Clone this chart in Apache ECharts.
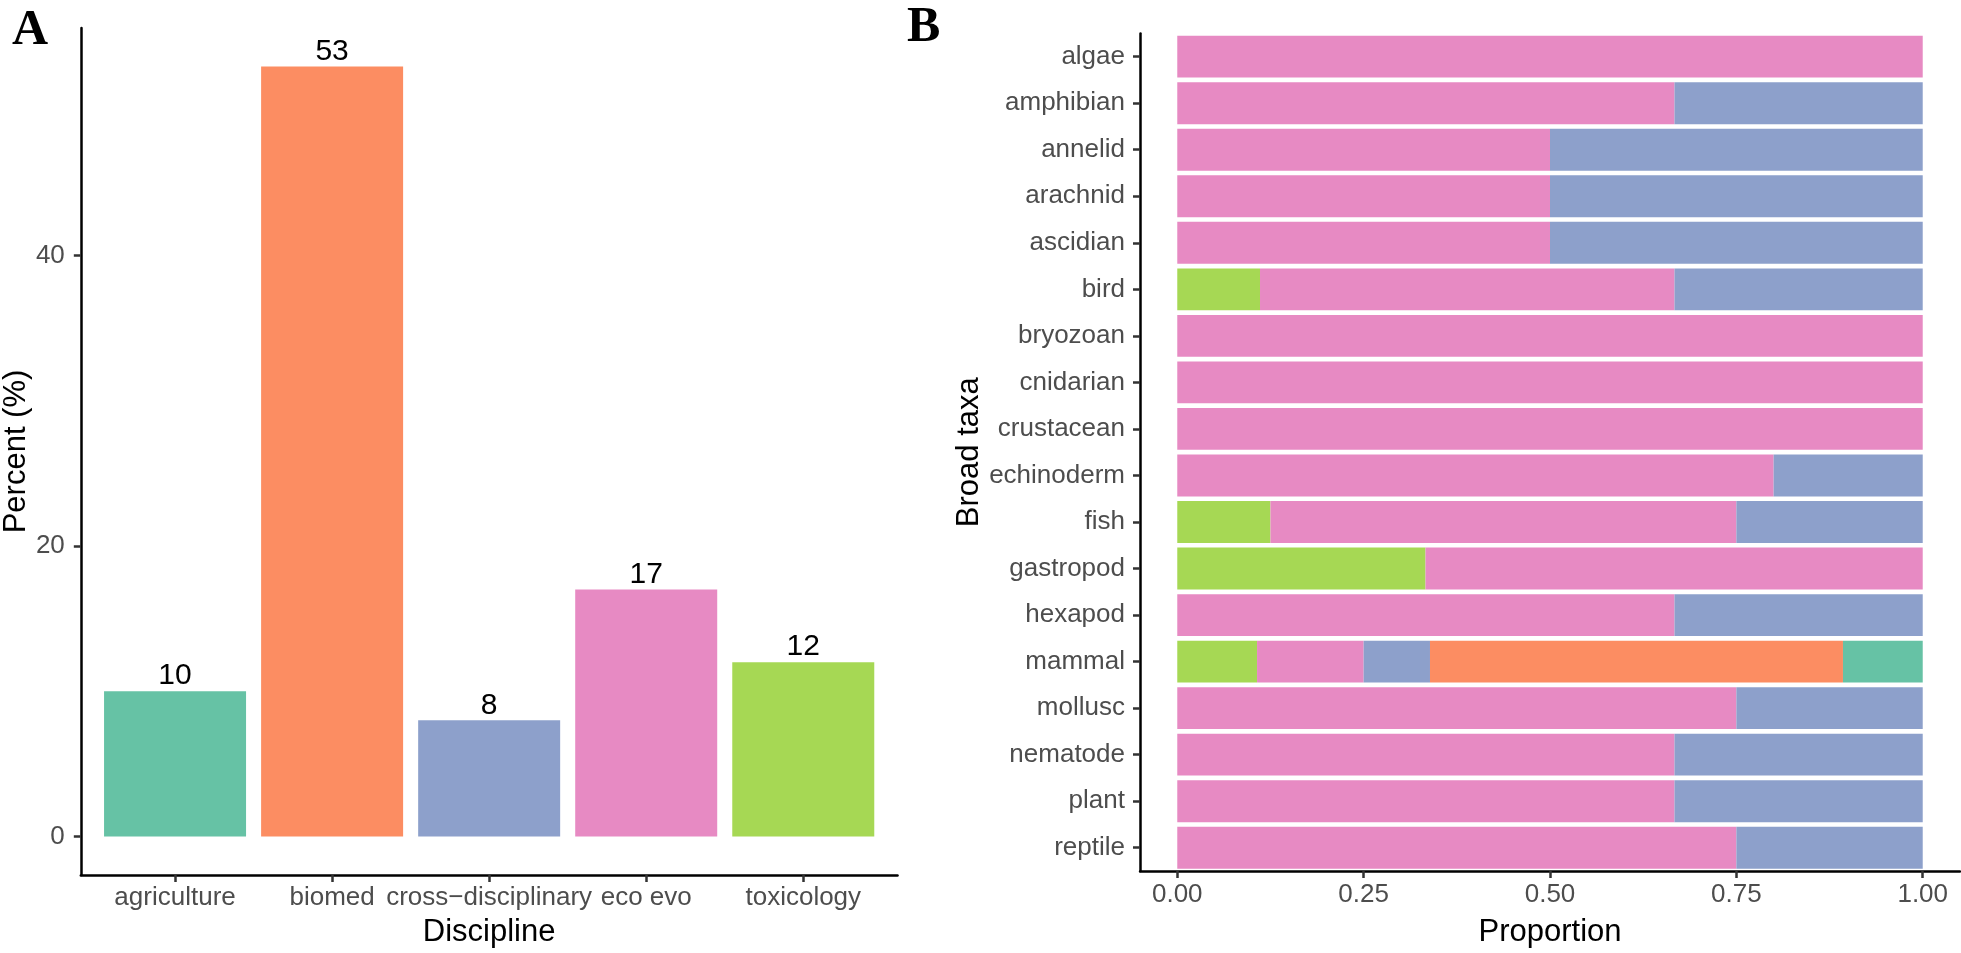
<!DOCTYPE html>
<html>
<head>
<meta charset="utf-8">
<script src="https://cdn.jsdelivr.net/npm/echarts@6/dist/echarts.min.js"></script>
<style>
html,body{margin:0;padding:0;background:#fff;}
#chart{width:1961px;height:953px;}
</style>
</head>
<body>
<div id="chart"></div>
<script>
// ---- Data ----
const disciplines = ['agriculture', 'biomed', 'cross\u2212disciplinary', 'eco evo', 'toxicology'];
const percents = [10, 53, 8, 17, 12];
const percentTicks = [0, 20, 40];

const taxa = ['algae','amphibian','annelid','arachnid','ascidian','bird','bryozoan','cnidarian','crustacean','echinoderm','fish','gastropod','hexapod','mammal','mollusc','nematode','plant','reptile'];
const propToxicology = [0,0,0,0,0,0.111,0,0,0,0,0.125,0.333,0,0.107,0,0,0,0];
const propEcoEvo     = [1,0.667,0.5,0.5,0.5,0.556,1,1,1,0.8,0.625,0.667,0.667,0.143,0.75,0.667,0.667,0.75];
const propCross      = [0,0.333,0.5,0.5,0.5,0.333,0,0,0,0.2,0.25,0,0.333,0.089,0.25,0.333,0.333,0.25];
const propBiomed     = [0,0,0,0,0,0,0,0,0,0,0,0,0,0.554,0,0,0,0];
const propAgri       = [0,0,0,0,0,0,0,0,0,0,0,0,0,0.107,0,0,0,0];
const proportionTicks = [0, 0.25, 0.5, 0.75, 1];

// Set2 palette, in discipline order
const palette = ['#66C2A5', '#FC8D62', '#8DA0CB', '#E78AC3', '#A6D854'];

// ---- Chart ----
const FONT = '"Liberation Sans", Arial, Helvetica, sans-serif';
const SERIF = '"Liberation Serif", "Times New Roman", serif';
const tickColor = '#4D4D4D';
const axisLineStyle = {color: '#000', width: 2.5};
const tickLineStyle = {color: '#333', width: 2.5};

const chart = echarts.init(document.getElementById('chart'), null, {renderer: 'canvas'});

const stackDefs = [
  {name: 'toxicology', data: propToxicology, color: palette[4]},
  {name: 'eco evo', data: propEcoEvo, color: palette[3]},
  {name: 'cross-disciplinary', data: propCross, color: palette[2]},
  {name: 'biomed', data: propBiomed, color: palette[1]},
  {name: 'agriculture', data: propAgri, color: palette[0]}
];

const option = {
  animation: false,
  backgroundColor: '#fff',
  textStyle: {fontFamily: FONT},
  graphic: [
    {type: 'text', left: 12, top: 6, style: {text: 'A', font: 'bold 50px ' + SERIF, fill: '#000'}},
    {type: 'text', left: 907, top: 3, style: {text: 'B', font: 'bold 50px ' + SERIF, fill: '#000'}}
  ],
  grid: [
    {left: 79, right: 1063.5, top: 28, bottom: 78},
    {left: 1140, right: 1, top: 33.4, bottom: 79.7}
  ],
  xAxis: [
    {
      gridIndex: 0, type: 'value', min: -0.6, max: 4.6,
      name: 'Discipline', nameLocation: 'middle', nameGap: 42,
      nameTextStyle: {fontSize: 31, color: '#000', fontFamily: FONT},
      axisLine: {show: true, onZero: false, lineStyle: axisLineStyle},
      axisTick: {show: true, length: 7, lineStyle: tickLineStyle, customValues: disciplines.map((d, i) => i)},
      axisLabel: {fontSize: 26, color: tickColor, margin: 10, fontFamily: FONT,
        customValues: disciplines.map((d, i) => i),
        formatter: v => disciplines[Math.round(v)]},
      splitLine: {show: false}
    },
    {
      gridIndex: 1, type: 'value', min: -0.05, max: 1.05,
      name: 'Proportion', nameLocation: 'middle', nameGap: 46,
      nameTextStyle: {fontSize: 31, color: '#000', fontFamily: FONT},
      axisLine: {show: true, onZero: false, lineStyle: axisLineStyle},
      axisTick: {show: true, length: 7, lineStyle: tickLineStyle, customValues: proportionTicks},
      axisLabel: {fontSize: 26, color: tickColor, margin: 11, fontFamily: FONT,
        customValues: proportionTicks,
        formatter: v => v.toFixed(2)},
      splitLine: {show: false}
    }
  ],
  yAxis: [
    {
      gridIndex: 0, type: 'value', min: -2.65, max: 55.65,
      name: 'Percent (%)', nameLocation: 'middle', nameGap: 47, nameRotate: 90,
      nameTextStyle: {fontSize: 31, color: '#000', fontFamily: FONT},
      axisLine: {show: true, onZero: false, lineStyle: axisLineStyle},
      axisTick: {show: true, length: 7, lineStyle: tickLineStyle, customValues: percentTicks},
      axisLabel: {fontSize: 26, color: tickColor, margin: 16, fontFamily: FONT, customValues: percentTicks},
      splitLine: {show: false}
    },
    {
      gridIndex: 1, type: 'category', data: taxa, inverse: true,
      name: 'Broad taxa', nameLocation: 'middle', nameGap: 154, nameRotate: 90,
      nameTextStyle: {fontSize: 31, color: '#000', fontFamily: FONT},
      axisLine: {show: true, onZero: false, lineStyle: axisLineStyle},
      axisTick: {show: true, length: 7, alignWithLabel: true, lineStyle: tickLineStyle},
      axisLabel: {fontSize: 26, color: tickColor, margin: 15, fontFamily: FONT, interval: 0},
      splitLine: {show: false}
    }
  ],
  series: [
    {
      type: 'bar', xAxisIndex: 0, yAxisIndex: 0,
      barWidth: 142,
      data: percents.map((v, i) => ({value: [i, v], itemStyle: {color: palette[i]}})),
      label: {show: true, position: 'top', distance: 0, fontSize: 30, color: '#000', fontFamily: FONT,
        formatter: p => p.value[1]}
    }
  ].concat(stackDefs.map(s => ({
    type: 'bar', name: s.name, xAxisIndex: 1, yAxisIndex: 1, stack: 'taxa',
    barWidth: '90%',
    itemStyle: {color: s.color},
    data: s.data
  })))
};

chart.setOption(option);
</script>
</body>
</html>
